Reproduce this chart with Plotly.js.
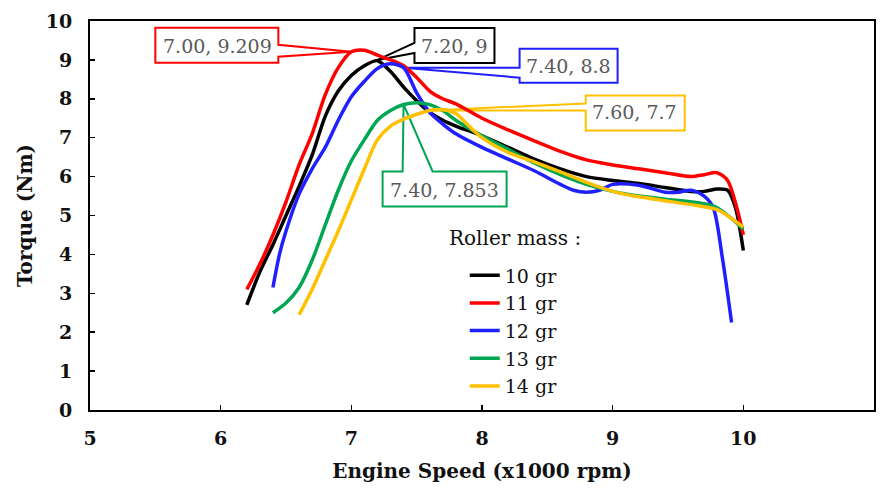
<!DOCTYPE html>
<html>
<head>
<meta charset="utf-8">
<script src="https://cdn.plot.ly/plotly-3.0.1.min.js"></script>
<style>html,body{margin:0;padding:0;background:#fff}#chart{width:885px;height:491px}</style>
</head>
<body>
<div id="chart"></div>
<script>
// ---- data ----
const seriesNames = ["10 gr", "11 gr", "12 gr", "13 gr", "14 gr"];
const seriesColors = ["#000000", "#ff0000", "#1f1fff", "#00a651", "#ffc000"];

const x10 = [6.2, 6.3, 6.4, 6.5, 6.6, 6.7, 6.8, 6.9, 7.0, 7.1, 7.2, 7.3, 7.4, 7.5, 7.6, 7.7, 7.8, 8.0, 8.2, 8.4, 8.6, 8.8, 9.0, 9.2, 9.4, 9.6, 9.7, 9.8, 9.88, 9.94, 10.0];
const y10 = [2.7, 3.55, 4.25, 5.0, 5.75, 6.55, 7.55, 8.2, 8.6, 8.85, 8.98, 8.7, 8.3, 7.95, 7.65, 7.45, 7.3, 7.05, 6.75, 6.45, 6.2, 6.0, 5.9, 5.82, 5.72, 5.62, 5.62, 5.68, 5.65, 5.2, 4.1];

const x11 = [6.2, 6.3, 6.4, 6.5, 6.6, 6.7, 6.8, 6.9, 7.0, 7.1, 7.2, 7.3, 7.4, 7.5, 7.6, 7.7, 7.8, 8.0, 8.2, 8.4, 8.6, 8.8, 9.0, 9.2, 9.4, 9.6, 9.7, 9.8, 9.88, 9.95, 10.0];
const y11 = [3.1, 3.75, 4.5, 5.35, 6.3, 7.1, 8.1, 8.8, 9.209, 9.25, 9.12, 9.0, 8.85, 8.55, 8.2, 8.0, 7.87, 7.5, 7.2, 6.92, 6.65, 6.43, 6.3, 6.2, 6.1, 6.0, 6.05, 6.1, 5.9, 5.2, 4.5];

const x12 = [6.4, 6.45, 6.5, 6.6, 6.7, 6.8, 6.9, 7.0, 7.1, 7.2, 7.3, 7.4, 7.5, 7.6, 7.7, 7.8, 8.0, 8.2, 8.4, 8.6, 8.7, 8.8, 8.9, 9.0, 9.2, 9.4, 9.5, 9.6, 9.7, 9.77, 9.84, 9.91];
const y12 = [3.15, 4.0, 4.6, 5.55, 6.2, 6.75, 7.45, 8.05, 8.45, 8.78, 8.9, 8.8, 8.15, 7.65, 7.35, 7.1, 6.75, 6.45, 6.15, 5.8, 5.65, 5.6, 5.65, 5.8, 5.78, 5.6, 5.6, 5.65, 5.5, 5.2, 3.9, 2.25];

const x13 = [6.4, 6.5, 6.6, 6.7, 6.8, 6.9, 7.0, 7.1, 7.2, 7.3, 7.4, 7.5, 7.6, 7.7, 7.8, 8.0, 8.2, 8.4, 8.6, 8.8, 9.0, 9.2, 9.4, 9.6, 9.7, 9.8, 9.9, 10.0];
const y13 = [2.5, 2.75, 3.15, 3.85, 4.75, 5.65, 6.4, 6.95, 7.45, 7.7, 7.853, 7.9, 7.85, 7.7, 7.45, 7.05, 6.7, 6.35, 6.05, 5.8, 5.62, 5.5, 5.42, 5.35, 5.3, 5.2, 4.95, 4.65];

const x14 = [6.6, 6.7, 6.8, 6.9, 7.0, 7.1, 7.2, 7.3, 7.4, 7.5, 7.6, 7.7, 7.8, 7.9, 8.0, 8.2, 8.4, 8.6, 8.8, 9.0, 9.2, 9.4, 9.6, 9.8, 9.9, 10.0];
const y14 = [2.45, 3.1, 3.85, 4.6, 5.4, 6.2, 6.95, 7.3, 7.48, 7.6, 7.7, 7.72, 7.62, 7.3, 7.0, 6.62, 6.38, 6.12, 5.85, 5.62, 5.48, 5.38, 5.28, 5.15, 4.95, 4.7];

// data callouts (peak points)
const calloutX = [7.00, 7.20, 7.40, 7.40, 7.60];
const calloutY = [9.209, 9, 8.8, 7.853, 7.7];
const calloutText = ["7.00, 9.209", "7.20, 9", "7.40, 8.8", "7.40, 7.853", "7.60, 7.7"];
const calloutColors = ["#ff0000", "#000000", "#1f1fff", "#00a651", "#ffc000"];

const xTickVals = [5, 6, 7, 8, 9, 10, 11];
const yTickVals = [0, 1, 2, 3, 4, 5, 6, 7, 8, 9, 10];

// ---- styling / layout ----
const xs = [x10, x11, x12, x13, x14];
const ys = [y10, y11, y12, y13, y14];
const traces = seriesNames.map((n, i) => ({
  type: "scatter", mode: "lines", name: n,
  x: xs[i], y: ys[i],
  line: {color: seriesColors[i], width: 3.5, shape: "spline", smoothing: 0.8}
}));

// callout box geometry in pixels relative to the pointed data point (y up)
const boxGeom = [
  {path: "M-196,24 L-73,24 L-73,7 L0,0 L-73,-5 L-73,-11 L-196,-11 Z", tx: -134, ty: 6},
  {path: "M37,32 L117,32 L117,-3 L37,-3 L37,7 L0,0 L37,17 Z", tx: 77, ty: 14},
  {path: "M116,19 L214,19 L214,-15 L116,-15 L116,-10 L0,0 L116,0 Z", tx: 165, ty: 2},
  {path: "M-21,-67 L-1,-67 L0,0 L29,-67 L103,-67 L103,-102 L-21,-102 Z", tx: 41, ty: -85},
  {path: "M156,15 L255,15 L255,-20 L156,-20 L156,0 L0,0 L156,7 Z", tx: 205, ty: -2}
];

const shapes = calloutX.map((cx, i) => ({
  type: "path", xref: "x", yref: "y",
  xsizemode: "pixel", ysizemode: "pixel",
  xanchor: cx, yanchor: calloutY[i],
  path: boxGeom[i].path,
  fillcolor: "#ffffff",
  line: {color: calloutColors[i], width: 2},
  layer: "below"
}));

const serif = "'DejaVu Serif', 'Liberation Serif', serif";
const annotations = calloutX.map((cx, i) => ({
  xref: "x", yref: "y", x: cx, y: calloutY[i],
  xshift: boxGeom[i].tx, yshift: boxGeom[i].ty,
  text: calloutText[i], showarrow: false,
  font: {family: serif, size: 19, color: "#595959"}
}));
annotations.push({
  xref: "paper", yref: "paper", x: 0.455, y: 0.442, xanchor: "left", yanchor: "middle",
  text: "Roller mass :", showarrow: false,
  font: {family: serif, size: 20, color: "#111111"}
});

const axisCommon = {
  showgrid: false, zeroline: false, showline: true, mirror: true,
  linecolor: "#000000", linewidth: 2,
  ticks: "inside", ticklen: 5, tickwidth: 1.5, tickcolor: "#000000",
  tickfont: {family: serif, size: 19, color: "#111111", weight: "bold"}
};

const layout = {
  width: 885, height: 491,
  margin: {l: 90, r: 11, t: 21, b: 81},
  paper_bgcolor: "#ffffff", plot_bgcolor: "#ffffff",
  showlegend: true,
  legend: {
    x: 0.478, y: 0.395, xanchor: "left", yanchor: "top",
    bgcolor: "rgba(0,0,0,0)", borderwidth: 0,
    font: {family: serif, size: 19, color: "#111111"},
    itemwidth: 30, tracegroupgap: 0
  },
  xaxis: Object.assign({}, axisCommon, {
    range: [5, 11], tickvals: xTickVals, ticklabelstandoff: 10,
    title: {text: "Engine Speed (x1000 rpm)", standoff: 16,
      font: {family: serif, size: 20, color: "#111111", weight: "bold"}}
  }),
  yaxis: Object.assign({}, axisCommon, {
    range: [0, 10], tickvals: yTickVals, ticklabelstandoff: 12,
    title: {text: "Torque (Nm)", standoff: 8,
      font: {family: serif, size: 20, color: "#111111", weight: "bold"}}
  }),
  shapes: shapes,
  annotations: annotations
};

Plotly.newPlot("chart", traces, layout, {displayModeBar: false, staticPlot: true});
</script>
</body>
</html>
